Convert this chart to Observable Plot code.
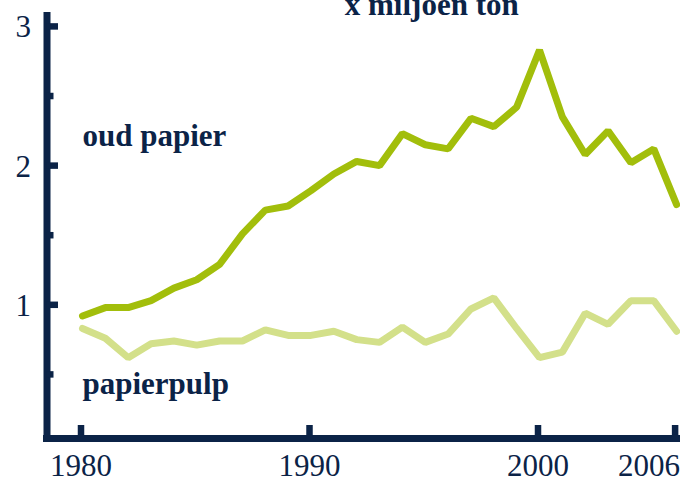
<!DOCTYPE html>
<html><head><meta charset="utf-8">
<script src="https://cdn.jsdelivr.net/npm/d3@7"></script>
<script src="https://cdn.jsdelivr.net/npm/@observablehq/plot@0.6"></script>
<style>html,body{margin:0;padding:0;background:#fff;overflow:hidden}
#chart svg, #chart svg text {font-family: "Liberation Serif", "Times New Roman", serif !important;}</style>
</head><body><div id="chart"></div>
<script>
const years = [1980,1981,1982,1983,1984,1985,1986,1987,1988,1989,1990,1991,1992,1993,1994,1995,1996,1997,1998,1999,2000,2001,2002,2003,2004,2005,2006];
const oudPapier = [0.92,0.98,0.98,1.03,1.12,1.18,1.29,1.51,1.68,1.71,1.82,1.94,2.03,2.00,2.23,2.15,2.12,2.34,2.28,2.42,2.83,2.35,2.08,2.25,2.02,2.12,1.72];
const papierpulp = [0.83,0.76,0.62,0.72,0.74,0.71,0.74,0.74,0.82,0.78,0.78,0.81,0.75,0.73,0.84,0.73,0.79,0.97,1.05,0.83,0.62,0.66,0.94,0.86,1.03,1.03,0.81];
const seriesNames = ["oud papier", "papierpulp"];
const labelYears = [1980, 1980];
const labelValues = [2.21, 0.43];
const xTicks = [1980, 1990, 2000];
const xTickLast = [2006];
const yTicks = [1, 2, 3];
const yMinorTicks = [0.5, 1.5, 2.5];
const title = "x miljoen ton";
const xDomain = [1978.512, 2006.236];
const yDomain = [0, 3.1];

const serif = "'Liberation Serif', 'Times New Roman', serif";
const navy = "#0b2347";
const darkGreen = "#a2be0b";
const lightGreen = "#d3e08a";

const rowsOud = years.map((y, i) => ({year: y, value: oudPapier[i]}));
const rowsPulp = years.map((y, i) => ({year: y, value: papierpulp[i]}));
const labels = seriesNames.map((n, i) => ({name: n, year: labelYears[i], value: labelValues[i]}));

const chart = Plot.plot({
  width: 680, height: 480,
  marginLeft: 46.5, marginRight: 0, marginTop: 12, marginBottom: 36.5,
  x: {domain: xDomain, label: null},
  y: {domain: yDomain, label: null},
  style: {fontFamily: serif, color: navy, background: "white"},
  marks: [
    Plot.line(rowsPulp, {x: "year", y: "value", stroke: lightGreen, strokeWidth: 7, strokeLinejoin: "miter", dx: 1.5}),
    Plot.line(rowsOud, {x: "year", y: "value", stroke: darkGreen, strokeWidth: 7, strokeLinejoin: "miter", dx: 1.5}),
    Plot.ruleX([xDomain[0]], {stroke: navy, strokeWidth: 7, insetBottom: 5.5}),
    Plot.ruleY([0], {stroke: navy, strokeWidth: 7, insetLeft: -3.5, dy: -5.5}),
    Plot.tickX(xTicks.concat(xTickLast), {x: d => d, stroke: navy, strokeWidth: 6.5, insetTop: 413, insetBottom: 5.5}),
    Plot.tickY(yTicks, {y: d => d, stroke: navy, strokeWidth: 6.5, insetRight: 622}),
    Plot.tickY(yMinorTicks, {y: d => d, stroke: navy, strokeWidth: 6.5, insetRight: 626.5}),
    Plot.axisY(yTicks, {tickSize: 0, tickPadding: 16, fontSize: 31, dy: 1, label: null, tickFormat: d3.format("d"), fontFamily: serif, fill: navy}),
    Plot.axisX(xTicks, {tickSize: 0, tickPadding: 10, fontSize: 31, label: null, tickFormat: d3.format("d"), fontFamily: serif, fill: navy}),
    Plot.axisX(xTickLast, {tickSize: 0, tickPadding: 10, fontSize: 31, textAnchor: "end", dx: 5, label: null, tickFormat: d3.format("d"), fontFamily: serif, fill: navy}),
    Plot.text(labels, {x: "year", y: "value", text: "name", textAnchor: "start", dx: 1.5, fontSize: 31, fontWeight: "bold", fill: navy, fontFamily: serif}),
    Plot.text([title], {frameAnchor: "top", lineAnchor: "bottom", dx: 68, dy: 2, fontSize: 31, fontWeight: "bold", fill: navy, fontFamily: serif})
  ]
});
document.getElementById("chart").appendChild(chart);
</script>
</body></html>
